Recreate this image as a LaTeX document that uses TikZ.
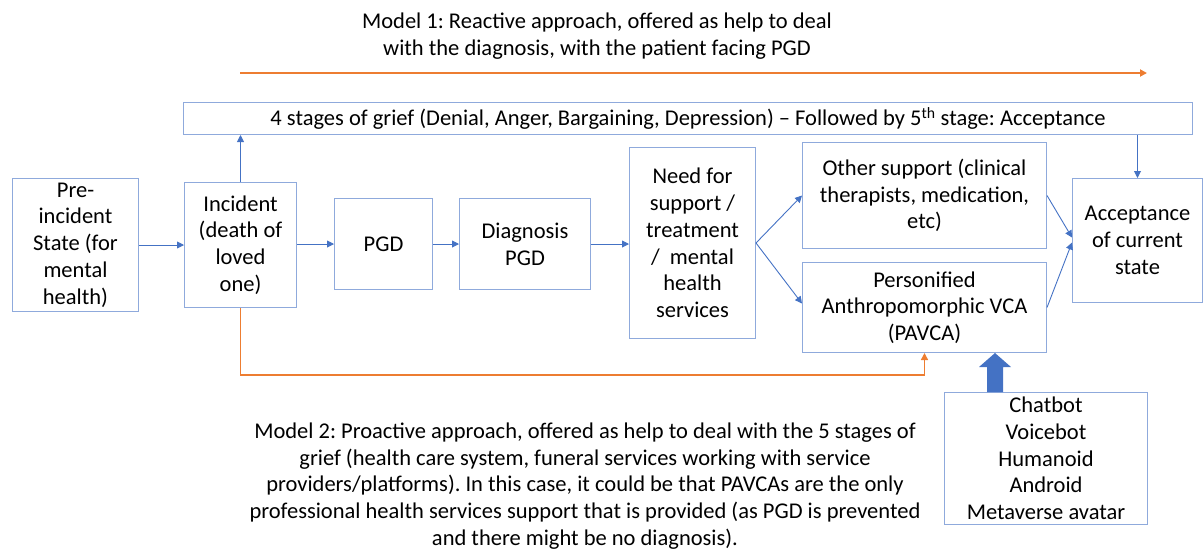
\documentclass[tikz,border=0pt]{standalone}
\usepackage{fontspec}
\setmainfont{Carlito}
\usetikzlibrary{arrows.meta,calc}
\definecolor{boxc}{HTML}{8FAADC}
\definecolor{arrc}{HTML}{4472C4}
\definecolor{orc}{HTML}{ED7D31}
\frenchspacing
\begin{document}
\begin{tikzpicture}[x=1pt,y=-1pt,
  txt/.style={font=\fontsize{22.5}{26.7}\selectfont, align=center, inner sep=0pt},
  box/.style={txt, draw=boxc, line width=1pt, anchor=north west},
  conn/.style={draw=arrc, line width=0.9pt, -{Triangle[width=7pt,length=7pt]}},
  oconn/.style={draw=orc, line width=1.8pt, -{Triangle[width=7pt,length=7pt]}}]
\useasboundingbox (0,0) rectangle (1203,550);
% boxes
\node[box, minimum width=126, minimum height=133] (pre) at (12,178) {Pre-\\incident\\State (for\\mental\\health)};
\node[box, minimum width=112, minimum height=125] (inc) at (184,182) {Incident\\(death of\\loved\\one)};
\node[box, minimum width=1009, minimum height=32] (grief) at (183,102) {4 stages of grief (Denial, Anger, Bargaining, Depression) -- Followed by 5\textsuperscript{th} stage: Acceptance};
\node[box, minimum width=98, minimum height=91] (pgd) at (334,198) {PGD};
\node[box, minimum width=131, minimum height=91] (diag) at (459,198) {Diagnosis\\PGD};
\node[box, minimum width=126, minimum height=191] (need) at (629,147) {Need for\\support /\\treatment\\/~~mental\\health\\services};
\node[box, minimum width=244, minimum height=106] (other) at (802,142) {Other support (clinical\\therapists, medication,\\etc)};
\node[box, minimum width=244, minimum height=90] (pav) at (802,262) {Personified\\Anthropomorphic VCA\\(PAVCA)};
\node[box, minimum width=130, minimum height=124] (acc) at (1072,178) {Acceptance\\of current\\state};
\node[box, minimum width=203, minimum height=132] (chat) at (944,392) {Chatbot\\Voicebot\\Humanoid\\Android\\Metaverse avatar};
% texts
\node[txt] (m1) at (597,36) {Model 1: Reactive approach, offered as help to deal\\with the diagnosis, with the patient facing PGD};
\node[txt] (m2) at (585,486) {Model 2: Proactive approach, offered as help to deal with the 5 stages of\\grief (health care system, funeral services working with service\\providers/platforms). In this case, it could be that PAVCAs are the only\\professional health services support that is provided (as PGD is prevented\\and there might be no diagnosis).};
% connectors
\draw[conn] (pre.east |- inc.west) -- (inc.west);
\draw[conn] (inc.east |- pgd.west) -- (pgd.west);
\draw[conn] (pgd.east) -- (diag.west);
\draw[conn] (diag.east) -- (need.west |- diag.east);
\draw[conn] (inc.north) -- (inc.north |- grief.south);
\draw[conn] (grief.south -| acc.north) -- (acc.north);
\draw[conn] (need.east) -- (other.west);
\draw[conn] (need.east) -- ([yshift=4]pav.west);
\draw[conn] (other.east) -- ([yshift=3]acc.west);
\draw[conn] (pav.east) -- ([yshift=-2]acc.west);
% orange
\coordinate (m1s) at (240,73);
\coordinate (m1e) at (1147,73);
\draw[oconn] (m1s) -- (m1e);
\coordinate (oy) at (0,375);
\draw[oconn, line width=1.4pt] (inc.south) -- (inc.south |- oy) -| (pav.south);
% block arrow
\coordinate (ba) at (995,392);
\fill[arrc] ($(ba)+(-8,0)$) -- ++(0,-25) -- ++(-8,0) -- (ba |- pav.south) -- ($(ba)+(16,-25)$) -- ++(-8,0) -- ($(ba)+(8,0)$) -- cycle;
\end{tikzpicture}
\end{document}
